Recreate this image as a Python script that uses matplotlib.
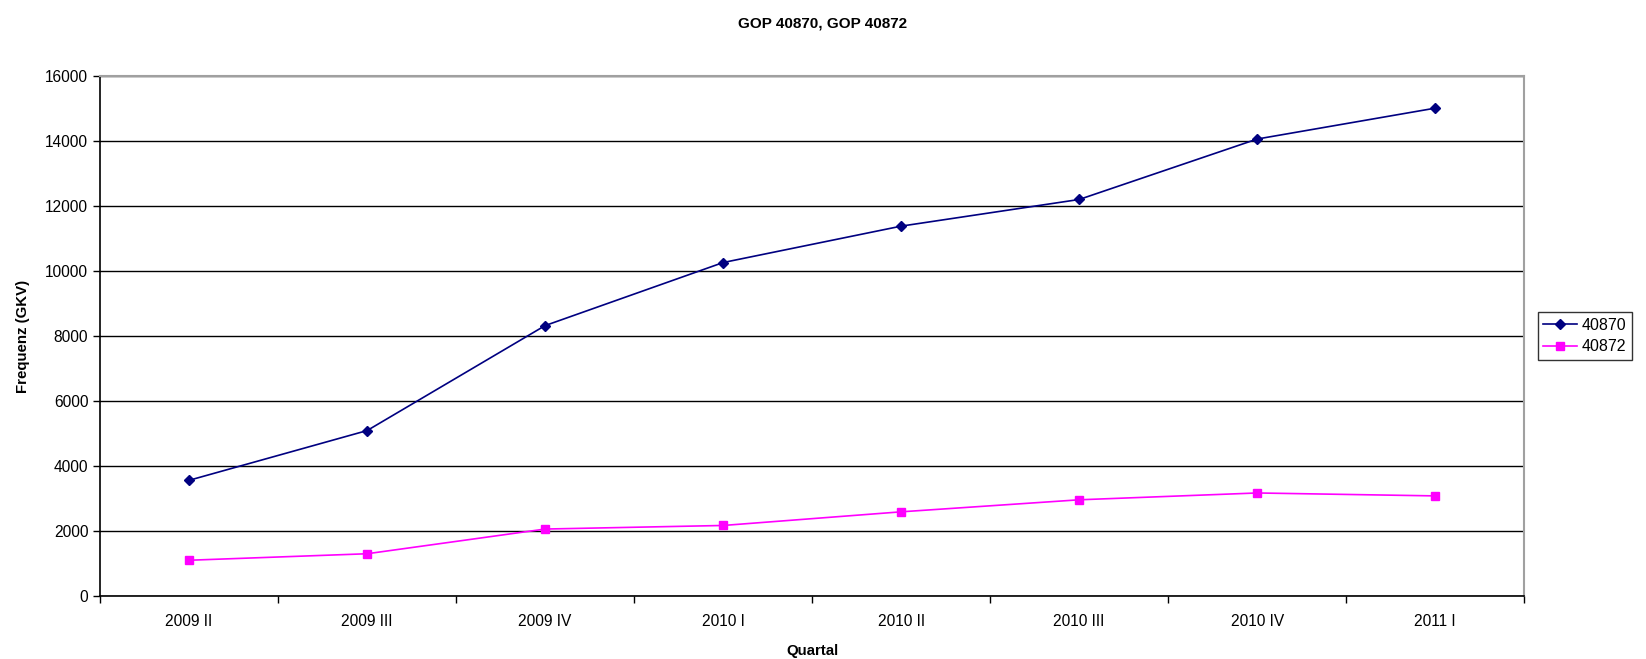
"""Recreate GOP 40870 / 40872 quarterly frequency chart."""

import matplotlib

matplotlib.use("Agg")
import matplotlib.pyplot as plt
from matplotlib.ticker import FixedLocator, NullFormatter

quarters = ["2009 II", "2009 III", "2009 IV", "2010 I", "2010 II", "2010 III", "2010 IV", "2011 I"]
gop_40870 = [3560, 5090, 8320, 10260, 11380, 12200, 14060, 15010]
gop_40872 = [1100, 1300, 2060, 2170, 2590, 2960, 3170, 3080]
y_ticks = [0, 2000, 4000, 6000, 8000, 10000, 12000, 14000, 16000]

plt.rcParams["font.family"] = ["Liberation Sans", "DejaVu Sans"]

fig = plt.figure(figsize=(16.46, 6.59), dpi=100)
ax = fig.add_axes([0.0608, 0.0956, 0.8652, 0.7891])

x = list(range(len(quarters)))
ax.plot(x, gop_40870, color="#000080", linewidth=1.2, marker="D", markersize=5, label="40870")
ax.plot(x, gop_40872, color="#FF00FF", linewidth=1.2, marker="s", markersize=6, label="40872")

ax.set_xlim(-0.5, len(quarters) - 0.5)
ax.set_ylim(0, 16000)
ax.set_yticks(y_ticks)
ax.set_yticklabels([str(v) for v in y_ticks], fontsize=11.2)

# tick marks sit on the category borders, labels in the middle
ax.xaxis.set_major_locator(FixedLocator([i - 0.5 for i in range(len(quarters) + 1)]))
ax.xaxis.set_major_formatter(NullFormatter())
ax.xaxis.set_minor_locator(FixedLocator(x))
ax.set_xticklabels(quarters, minor=True, fontsize=11.2)
ax.tick_params(axis="x", which="minor", length=0, pad=13)
ax.tick_params(axis="x", which="major", length=5, width=1, direction="out")
ax.tick_params(axis="y", length=5, width=1, direction="out")

ax.yaxis.grid(True, color="black", linewidth=1)
ax.set_axisbelow(True)
for side in ("top", "right"):
    ax.spines[side].set_color("#A0A0A0")
    ax.spines[side].set_linewidth(1.5)
for side in ("left", "bottom"):
    ax.spines[side].set_color("black")
    ax.spines[side].set_linewidth(1.2)

ax.set_xlabel("Quartal", fontsize=10.8, fontweight="bold", labelpad=11)
ax.set_ylabel("Frequenz (GKV)", fontsize=10.8, fontweight="bold", labelpad=11)
fig.suptitle("GOP 40870, GOP 40872", fontsize=11, fontweight="bold", y=0.975)

leg = ax.legend(
    loc="center left",
    bbox_to_anchor=(1.0096, 0.5),
    frameon=True,
    fancybox=False,
    edgecolor="black",
    fontsize=11.5,
    handlelength=2.1,
    handletextpad=0.3,
    borderpad=0.35,
    borderaxespad=0,
    labelspacing=0.4,
)
leg.get_frame().set_linewidth(1)

fig.savefig("out.png", dpi=100)
